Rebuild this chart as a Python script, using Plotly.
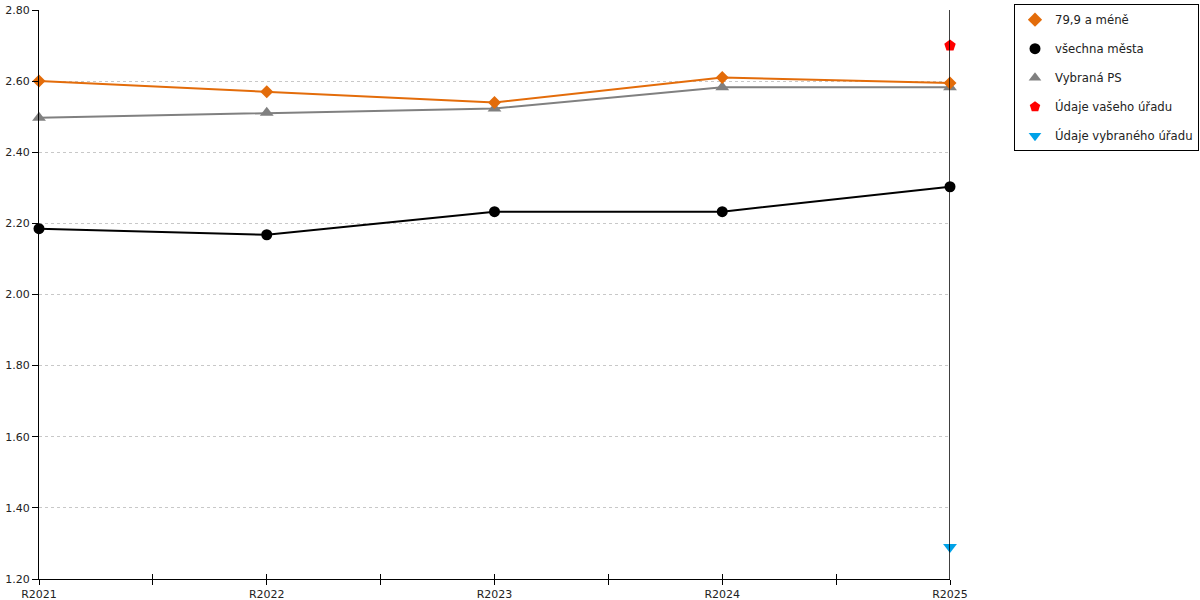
import plotly.graph_objects as go

years = ["R2021", "R2022", "R2023", "R2024", "R2025"]
mene = [2.60, 2.57, 2.54, 2.61, 2.595]
vsechna = [2.185, 2.168, 2.233, 2.233, 2.303]
vybrana_ps = [2.497, 2.511, 2.523, 2.583, 2.583]
vas_urad = [2.70]
vybrany_urad = [1.29]

xi = list(range(len(years)))
font = "DejaVu Sans"

fig = go.Figure()

# car lines
fig.add_trace(go.Scatter(x=xi, y=vybrana_ps, mode="lines+markers", showlegend=False,
                         cliponaxis=False,
                         line=dict(color="#808080", width=2),
                         marker=dict(symbol="triangle-up", size=12, color="#808080")))
fig.add_trace(go.Scatter(x=xi, y=mene, mode="lines+markers", showlegend=False,
                         cliponaxis=False,
                         line=dict(color="#e36c0a", width=2),
                         marker=dict(symbol="diamond", size=10, color="#e36c0a")))
fig.add_trace(go.Scatter(x=xi, y=vsechna, mode="lines+markers", showlegend=False,
                         cliponaxis=False,
                         line=dict(color="#000000", width=2),
                         marker=dict(symbol="circle", size=11, color="#000000")))
fig.add_trace(go.Scatter(x=[xi[-1]], y=vas_urad, mode="markers", showlegend=False,
                         cliponaxis=False,
                         marker=dict(symbol="pentagon", size=12, color="#ff0000")))
fig.add_trace(go.Scatter(x=[xi[-1]], y=vybrany_urad, mode="markers", showlegend=False,
                         cliponaxis=False,
                         marker=dict(symbol="triangle-down", size=12, color="#00a2e8")))

# legenda jen se symboly
leg = [("79,9 a méně", "diamond", "#e36c0a"),
       ("všechna města", "circle", "#000000"),
       ("Vybraná PS", "triangle-up", "#808080"),
       ("Údaje vašeho úřadu", "pentagon", "#ff0000"),
       ("Údaje vybraného úřadu", "triangle-down", "#00a2e8")]
for i, (name, sym, col) in enumerate(leg):
    fig.add_trace(go.Scatter(x=[None], y=[None], mode="markers", name=name,
                             legendgroup=str(i),
                             marker=dict(symbol=sym, size=11, color=col)))

fig.add_shape(type="line", xref="x", yref="paper", x0=xi[-1], x1=xi[-1], y0=0, y1=1,
              line=dict(color="black", width=1.5))

fig.update_layout(
    width=1200, height=600,
    margin=dict(l=39, r=250, t=10, b=21, autoexpand=False),
    plot_bgcolor="white", paper_bgcolor="white",
    font=dict(family=font, size=11, color="#222"),
    legend=dict(xref="container", yref="container", x=1014 / 1200, y=0.993,
                xanchor="left", yanchor="top",
                bordercolor="black", borderwidth=1, font=dict(size=11.7, color="#222"),
                tracegroupgap=10, traceorder="grouped", itemwidth=30),
    xaxis=dict(range=[0, 4], tickvals=xi, ticktext=years, showgrid=False,
               showline=True, linecolor="black", linewidth=1.2, automargin=False,
               ticks="outside", ticklen=5, tickcolor="black",
               minor=dict(dtick=0.5, tick0=0, ticks="outside", ticklen=5, tickcolor="black"),
               zeroline=False),
    xaxis2=dict(overlaying="x", matches="x", range=[0, 4], side="bottom",
                tickvals=[0, 0.5, 1, 1.5, 2, 2.5, 3, 3.5, 4], showticklabels=False,
                ticks="inside", ticklen=5, tickcolor="black", showgrid=False,
                showline=False, zeroline=False, automargin=False),
    yaxis=dict(range=[1.2, 2.8], dtick=0.2, tickformat=".2f", automargin=False,
               showline=True, linecolor="black", linewidth=1.2,
               ticks="outside", ticklen=6, tickcolor="black",
               showgrid=True, gridcolor="#c8c8c8", griddash="dot", gridwidth=1,
               zeroline=False),
)
fig.add_trace(go.Scatter(x=[None], y=[None], xaxis="x2", showlegend=False))

# bez okraje stranky, at graf sedi od rohu
fig.write_html("out.html", config={"displayModeBar": False},
               post_script="document.body.style.margin='0px';")
